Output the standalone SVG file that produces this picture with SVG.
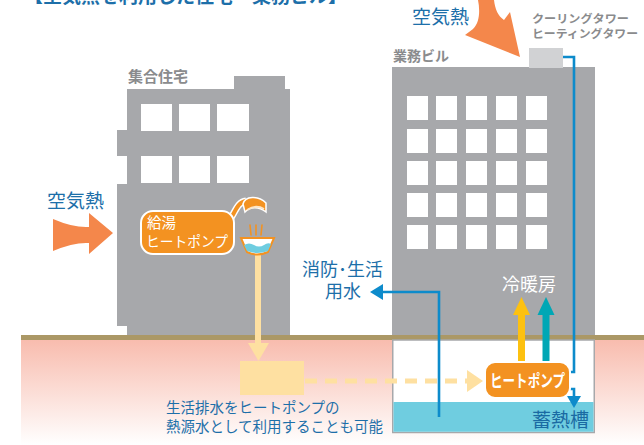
<svg xmlns="http://www.w3.org/2000/svg" width="644" height="445" viewBox="0 0 644 445">
  <defs>
    <linearGradient id="soil" x1="0" y1="0" x2="0" y2="1">
      <stop offset="0" stop-color="#f8bcae"/>
      <stop offset="1" stop-color="#ffffff"/>
    </linearGradient>
    <style>
      .bldg { fill: #a7a8ab; }
      .win { fill: #ffffff; }
      .jp { font-family: "Noto Sans CJK JP", "Noto Sans", sans-serif; }
      .blue { fill: #1d6fa9; }
      .gray { fill: #8a8b8d; font-weight: bold; }
      .pipe { fill: none; stroke: #0d8bcb; stroke-width: 2.6; }
      .hp { fill: #f39221; stroke: #ffffff; stroke-width: 2; }
      .hptext { fill: #ffffff; }
      .air { fill: #f4874b; }
    </style>
  </defs>

  <rect width="644" height="445" fill="#ffffff"/>

  <!-- title (runs off the top edge) -->
  <text class="jp" x="24" y="3" font-size="19" font-weight="bold" fill="#1d6fa9">【空気熱を利用した住宅・業務ビル】</text>

  <!-- ground -->
  <g id="ground">
    <rect x="21" y="340" width="623" height="105" fill="url(#soil)"/>
    <rect x="21" y="335" width="623" height="5" fill="#ab9866"/>
  </g>

  <!-- apartment building -->
  <g id="apartment">
    <path class="bldg" d="M127,89 H234 V76 H285 V89 H290 V335 H127 V326 H117 V184 H127 V156 H117 V130 H127 Z"/>
    <rect class="win" x="141" y="104" width="31" height="27"/>
    <rect class="win" x="179" y="104" width="31" height="27"/>
    <rect class="win" x="217" y="104" width="32" height="27"/>
    <rect class="win" x="141" y="156" width="31" height="27"/>
    <rect class="win" x="179" y="156" width="31" height="27"/>
    <rect class="win" x="217" y="156" width="32" height="27"/>
    <text class="jp gray" x="128" y="82" font-size="15">集合住宅</text>
  </g>

  <!-- office building -->
  <g id="office">
    <rect class="bldg" x="392" y="67" width="203" height="268"/>
    <g class="win">
      <rect x="407" y="96" width="21" height="24"/><rect x="436" y="96" width="21" height="24"/><rect x="466" y="96" width="21" height="24"/><rect x="496" y="96" width="21" height="24"/><rect x="526" y="96" width="21" height="24"/>
      <rect x="407" y="129" width="21" height="24"/><rect x="436" y="129" width="21" height="24"/><rect x="466" y="129" width="21" height="24"/><rect x="496" y="129" width="21" height="24"/><rect x="526" y="129" width="21" height="24"/>
      <rect x="407" y="161" width="21" height="24"/><rect x="436" y="161" width="21" height="24"/><rect x="466" y="161" width="21" height="24"/><rect x="496" y="161" width="21" height="24"/><rect x="526" y="161" width="21" height="24"/>
      <rect x="407" y="193" width="21" height="24"/><rect x="436" y="193" width="21" height="24"/><rect x="466" y="193" width="21" height="24"/><rect x="496" y="193" width="21" height="24"/><rect x="526" y="193" width="21" height="24"/>
      <rect x="407" y="225" width="21" height="24"/><rect x="436" y="225" width="21" height="24"/><rect x="466" y="225" width="21" height="24"/><rect x="496" y="225" width="21" height="24"/><rect x="526" y="225" width="21" height="24"/>
    </g>
    <text class="jp gray" x="393" y="61" font-size="14">業務ビル</text>
  </g>

  <!-- cooling / heating tower -->
  <g id="tower">
    <rect x="529" y="48" width="34" height="20" fill="#d1d2d4"/>
    <text class="jp gray" x="532" y="23" font-size="11.5" textLength="97" lengthAdjust="spacingAndGlyphs">クーリングタワー</text>
    <text class="jp gray" x="532" y="38" font-size="11.5" textLength="106" lengthAdjust="spacingAndGlyphs">ヒーティングタワー</text>
  </g>

  <!-- thermal storage pit -->
  <g id="storage">
    <rect x="392.75" y="340" width="201.5" height="92.5" fill="#ffffff" stroke="#a7a8ab" stroke-width="1.5"/>
    <rect x="393.5" y="402" width="200" height="29.75" fill="#6fcde0"/>
    <text class="jp" x="532" y="427" font-size="19" fill="#1a6aa3">蓄熱槽</text>
  </g>

  <!-- outside air heat arrows -->
  <g id="air-left">
    <path class="air" d="M53,219 Q74,228 89,227 L89,213 L113,233 L89,254 L89,243 Q74,242 53,251 Z"/>
    <text class="jp blue" x="47" y="208" font-size="19">空気熱</text>
  </g>
  <g id="air-top">
    <path class="air" d="M478,0 L494,0 C495,9 498,16 504,20 L510,12 L520,57 L465,35 L473,29 C480,22 480,10 478,0 Z"/>
    <text class="jp blue" x="412" y="24" font-size="19">空気熱</text>
  </g>

  <!-- connectors -->
  <g id="connectors">
    <!-- domestic waste water -->
    <line x1="258" y1="254" x2="258" y2="345" stroke="#fee0a1" stroke-width="6"/>
    <path d="M248,343 L269,343 L258.5,361 Z" fill="#fee0a1"/>
    <line x1="305" y1="381" x2="468" y2="381" stroke="#fee0a1" stroke-width="5" stroke-dasharray="12 8"/>
    <path d="M467,370 L483,381 L467,392 Z" fill="#fee0a1"/>
    <!-- tower loop -->
    <path class="pipe" d="M563,57 H574 V372 H569"/>
    <path class="pipe" d="M569,389 H574 V398"/>
    <path d="M567,396 L581,396 L574,408 Z" fill="#0d8bcb"/>
    <!-- fire / utility water -->
    <path class="pipe" d="M439,417 V292 H382"/>
    <path d="M383,284 L370,292 L383,300 Z" fill="#0d8bcb"/>
    <!-- heating / cooling supply -->
    <line x1="521.5" y1="362" x2="521.5" y2="313" stroke="#fdc110" stroke-width="7"/>
    <path d="M513,315 L530,315 L521.5,297 Z" fill="#fdc110"/>
    <line x1="546" y1="362" x2="546" y2="313" stroke="#00a7b5" stroke-width="7"/>
    <path d="M537.5,315 L554.5,315 L546,297 Z" fill="#00a7b5"/>
  </g>

  <!-- waste water collection -->
  <rect id="drain-tank" x="240" y="361" width="64" height="34" fill="#fee0a1"/>

  <text class="jp blue" x="302" y="276" font-size="18">消防･生活</text>
  <text class="jp blue" x="325" y="298" font-size="18">用水</text>
  <text class="jp" x="502" y="291" font-size="18" fill="#ffffff">冷暖房</text>

  <!-- water-heating heat pump with shower and basin -->
  <g id="hp-water">
    <path d="M231,218 C236,210 238,202 246,201" fill="none" stroke="#ffffff" stroke-width="7"/>
    <path d="M231,218 C236,210 238,202 246,201" fill="none" stroke="#f39221" stroke-width="4"/>
    <path d="M243,204 C245,196 258,195 266,203 L266,212 C258,206 250,207 245,212 Z" fill="#f39221" stroke="#ffffff" stroke-width="1.5"/>
    <path d="M247,210 C253,206 259,206 264,209" fill="none" stroke="#fde6c8" stroke-width="2"/>
    <rect class="hp" x="141" y="211" width="93" height="43" rx="12"/>
    <text class="jp hptext" x="147" y="228" font-size="14.5">給湯</text>
    <text class="jp hptext" x="146" y="247" font-size="14.5" textLength="82" lengthAdjust="spacingAndGlyphs">ヒートポンプ</text>
    <g stroke="#f39221" stroke-width="1.6" stroke-linecap="round">
      <line x1="250" y1="225" x2="251" y2="235"/>
      <line x1="256" y1="225" x2="256" y2="235"/>
      <line x1="262" y1="225" x2="261" y2="235"/>
    </g>
    <path d="M241,238 L274,238 L268,252 Q257,257 247,252 Z" fill="#ffffff" stroke="#f39221" stroke-width="2"/>
    <path d="M244,245 Q249,242 254,245 Q259,248 264,245 Q268,242 271,244 L268,251 Q257,255 247,251 Z" fill="#6fcde0"/>
  </g>

  <!-- storage heat pump -->
  <g id="hp-storage">
    <rect class="hp" x="485" y="362" width="85" height="36" rx="10"/>
    <text class="jp hptext" x="490" y="387" font-size="17" font-weight="bold" textLength="75" lengthAdjust="spacingAndGlyphs">ヒートポンプ</text>
  </g>

  <g id="note">
    <text class="jp blue" x="166" y="413" font-size="14.5">生活排水をヒートポンプの</text>
    <text class="jp blue" x="166" y="432" font-size="14.5">熱源水として利用することも可能</text>
  </g>
</svg>
